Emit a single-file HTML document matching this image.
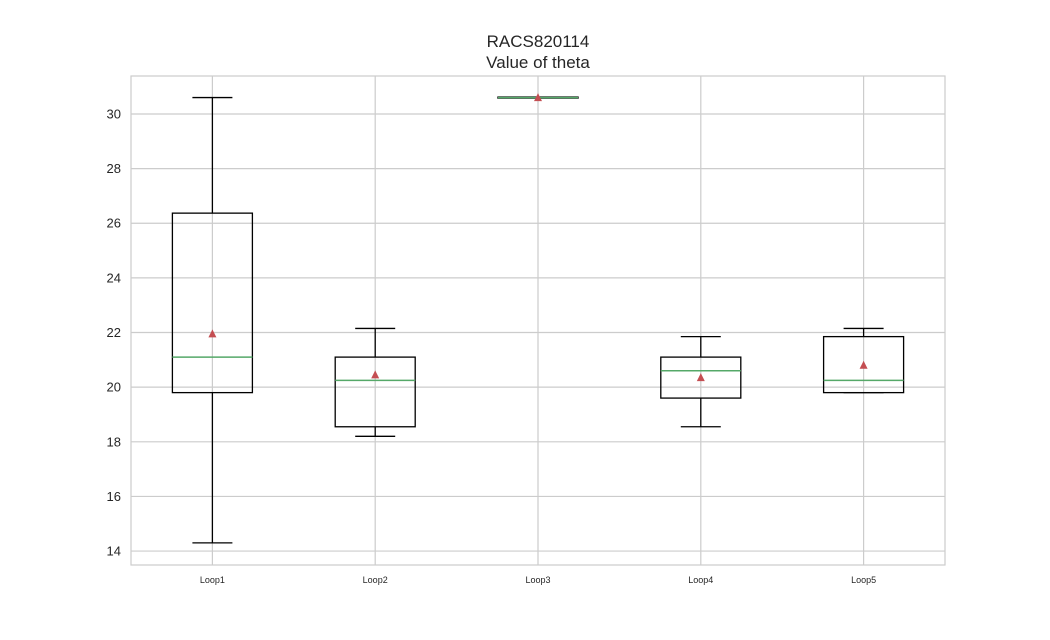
<!DOCTYPE html>
<html><head><meta charset="utf-8"><style>
body{margin:0;background:#fff;font-family:"Liberation Sans",sans-serif}
</style></head><body>
<svg id="chart" width="1050" height="635" xmlns="http://www.w3.org/2000/svg">
<rect width="1050" height="635" fill="#fff"/>
<text x="538" y="47" text-anchor="middle" font-size="17" fill="#262626">RACS820114</text>
<text x="538" y="68" text-anchor="middle" font-size="17" fill="#262626">Value of theta</text>
<g id="grid"></g><g id="boxes"></g>
<rect x="131" y="76" width="814" height="489" fill="none" stroke="#ccc" stroke-width="1.2"/>
</svg>
<script>
const categories=["Loop1","Loop2","Loop3","Loop4","Loop5"];
const whiskerLow=[14.3,18.2,30.6,18.55,19.8];
const q1=[19.8,18.55,30.58,19.6,19.8];
const medians=[21.1,20.25,30.6,20.6,20.25];
const q3=[26.37,21.1,30.62,21.1,21.85];
const whiskerHigh=[30.6,22.15,30.6,21.85,22.15];
const means=[21.95,20.45,30.6,20.35,20.8];
const yTicks=[14,16,18,20,22,24,26,28,30];
const NS="http://www.w3.org/2000/svg";
const L=131,R=945,T=76,B=565,ymin=13.49,ymax=31.39;
const y=v=>B-(v-ymin)/(ymax-ymin)*(B-T);
const x=i=>L+(i+0.5)/categories.length*(R-L);
function mk(p,tag,a){const e=document.createElementNS(NS,tag);for(const k in a)e.setAttribute(k,a[k]);p.appendChild(e);return e;}
const g=document.getElementById('grid'),bx=document.getElementById('boxes');
yTicks.forEach(t=>{
 const l=mk(g,'line',{x1:L,x2:R,y1:y(t),y2:y(t),stroke:'#ccc','stroke-width':1.2});
 
 
 const tx=mk(g,'text',{x:L-10,y:y(t)+4.5,'text-anchor':'end','font-size':13,fill:'#262626'});tx.textContent=t;
 
 
});
categories.forEach((c,i)=>{
 const cx=x(i),hw=40;
 const l=mk(g,'line',{x1:cx,x2:cx,y1:T,y2:B,stroke:'#ccc','stroke-width':1.2});
 
 
 const tx=mk(g,'text',{x:cx,y:583,'text-anchor':'middle','font-size':9,fill:'#262626'});tx.textContent=c;
 
 
 const grp=mk(bx,'g',{});
 
 
 const s={stroke:'#000','stroke-width':1.3,fill:'none'};
 mk(grp,'line',Object.assign({x1:cx,x2:cx,y1:y(whiskerLow[i]),y2:y(q1[i])},s));
 mk(grp,'line',Object.assign({x1:cx,x2:cx,y1:y(q3[i]),y2:y(whiskerHigh[i])},s));
 mk(grp,'line',Object.assign({x1:cx-20,x2:cx+20,y1:y(whiskerLow[i]),y2:y(whiskerLow[i])},s));
 mk(grp,'line',Object.assign({x1:cx-20,x2:cx+20,y1:y(whiskerHigh[i]),y2:y(whiskerHigh[i])},s));
 mk(grp,'rect',Object.assign({x:cx-hw,y:y(q3[i]),width:2*hw,height:Math.max(0.5,y(q1[i])-y(q3[i]))},s));
 mk(grp,'line',{x1:cx-hw,x2:cx+hw,y1:y(medians[i]),y2:y(medians[i]),stroke:'#55a868','stroke-width':1.5});
 const my=y(means[i]);
 mk(grp,'polygon',{points:`${cx},${my-4.5} ${cx-4},${my+3.5} ${cx+4},${my+3.5}`,fill:'#c44e52'});
});
</script>
</body></html>
